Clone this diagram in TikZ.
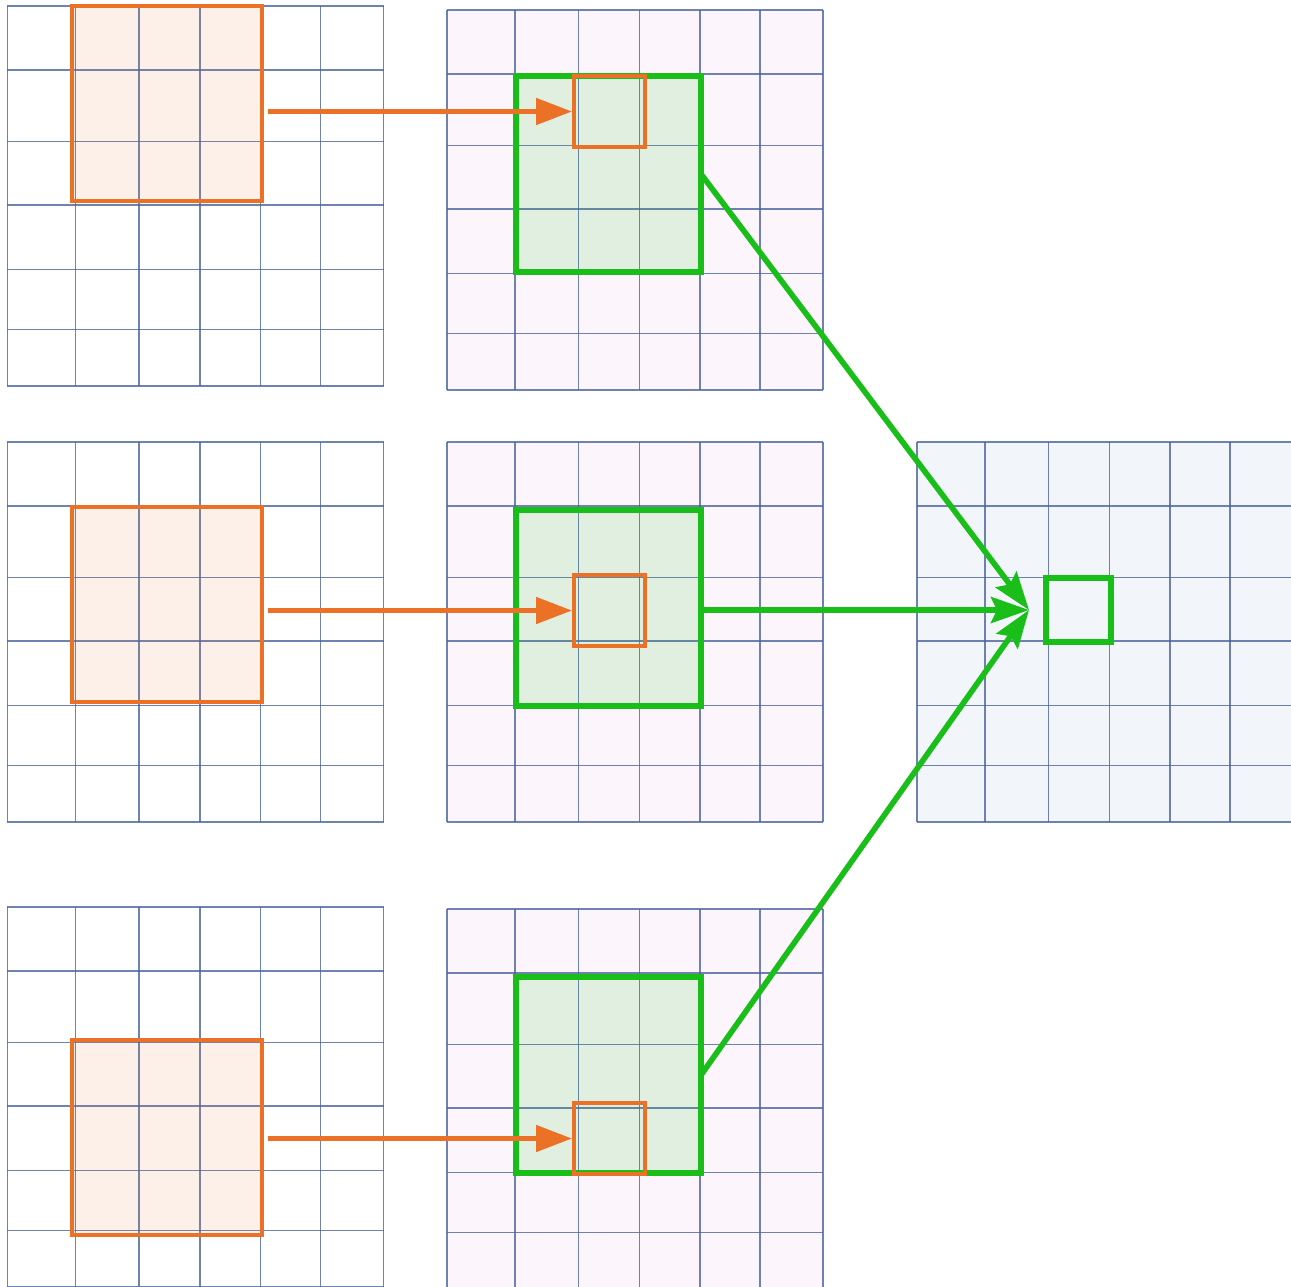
\documentclass[tikz,border=0pt]{standalone}
\usepackage{tikz}
\usetikzlibrary{arrows.meta}
\definecolor{gridblue}{RGB}{75,100,160}
\definecolor{boxorange}{RGB}{234,113,37}
\definecolor{boxgreen}{RGB}{25,190,25}
\definecolor{midbg}{RGB}{252,246,252}
\definecolor{outbg}{RGB}{242,246,251}

\begin{document}
\begin{tikzpicture}[
		gridline/.style={gridblue, line width=0.45pt, opacity=0.8},
		inwin/.style={rectangle, inner sep=0pt, outer sep=0pt, anchor=north west, draw=boxorange, line width=1.3pt,
			fill=boxorange, fill opacity=0.1, minimum width=1.90cm, minimum height=1.95cm},
		midwin/.style={rectangle, inner sep=0pt, outer sep=0pt, anchor=north west, draw=boxgreen, line width=1.7pt,
			fill=boxgreen, fill opacity=0.12, minimum width=1.85cm, minimum height=1.96cm},
		midcell/.style={rectangle, inner sep=0pt, outer sep=0pt, anchor=north west, draw=boxorange, line width=1.1pt,
			minimum width=0.71cm, minimum height=0.71cm},
		outcell/.style={rectangle, inner sep=0pt, outer sep=0pt, anchor=north west, draw=boxgreen, line width=1.5pt,
			minimum width=0.65cm, minimum height=0.64cm},
		orangearrow/.style={boxorange, line width=1.4pt, -{Triangle[length=0.36cm, width=0.26cm]},
			shorten <=0.06cm, shorten >=0.02cm},
		greenarrow/.style={boxgreen, line width=1.6pt, -{Stealth[length=0.38cm, width=0.26cm, inset=0.06cm]}}]
		\useasboundingbox (0,0) rectangle (12.91,12.86);
		\clip (0,0) rectangle (12.91,12.86);

		% the seven 6x6 maps
		\foreach \gx/\gy/\bg in {0.075/12.80/white, 0.075/8.44/white, 0.075/3.79/white,
			4.47/12.76/midbg, 4.47/8.44/midbg, 4.47/3.77/midbg, 9.17/8.44/outbg} {
			\fill[\bg] (\gx,\gy) rectangle ++(3.76,-3.80);
			\foreach \dx in {0,0.68,1.315,1.925,2.53,3.13,3.76}
				\draw[gridline] (\gx+\dx,\gy) -- ++(0,-3.80);
			\foreach \dy in {0,0.64,1.355,1.99,2.635,3.235,3.80}
				\draw[gridline] (\gx,\gy-\dy) -- ++(3.76,0);
		}

		% input windows
		\node[inwin] (lb1) at (0.72,12.80) {};
		\node[inwin] (lb2) at (0.72,7.79) {};
		\node[inwin] (lb3) at (0.72,2.46) {};

		% middle windows and their cells
		\node[midwin] (gb1) at (5.16,12.10) {};
		\node[midwin] (gb2) at (5.16,7.76) {};
		\node[midwin] (gb3) at (5.16,3.09) {};
		\node[midcell] (sb1) at (5.74,12.10) {};
		\node[midcell] (sb2) at (5.74,7.11) {};
		\node[midcell] (sb3) at (5.74,1.83) {};

		% output cell
		\node[outcell] (rs) at (10.46,7.08) {};
		\coordinate (tip) at ([xshift=-0.17cm]rs.west);

		\draw[orangearrow] (lb1.east |- sb1.west) -- (sb1.west);
		\draw[orangearrow] (lb2.east |- sb2.west) -- (sb2.west);
		\draw[orangearrow] (lb3.east |- sb3.west) -- (sb3.west);

		\draw[greenarrow] (gb1.east) -- (tip);
		\draw[greenarrow] (gb2.east |- tip) -- (tip);
		\draw[greenarrow] (gb3.east) -- (tip);
	\end{tikzpicture}
\end{document}
